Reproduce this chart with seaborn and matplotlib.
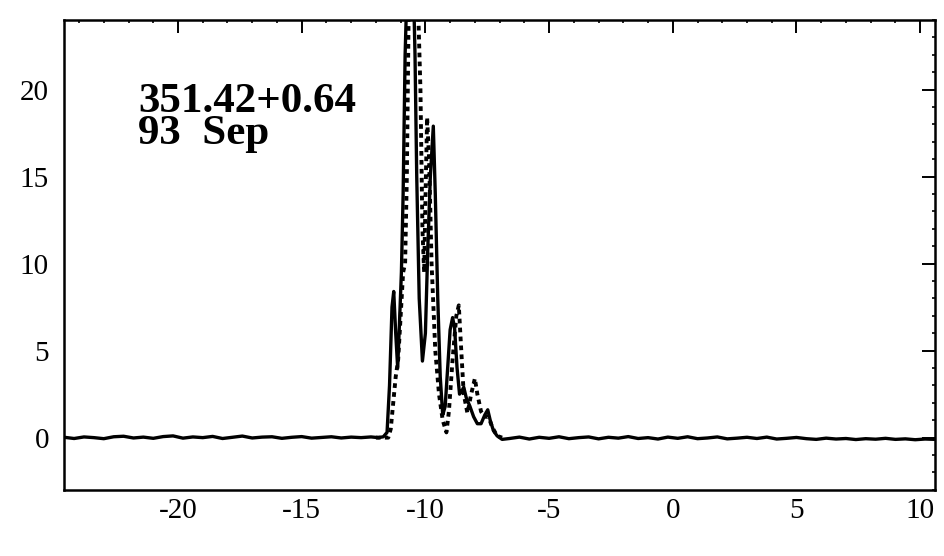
import numpy as np
import pandas as pd
import matplotlib
matplotlib.use("Agg")
import matplotlib.pyplot as plt
from matplotlib.ticker import MultipleLocator
import seaborn as sns

# ---- data ----
base_left_x = [-24.6, -24.2, -23.8, -23.4, -23.0, -22.6, -22.2, -21.8, -21.4, -21.0,
               -20.6, -20.2, -19.8, -19.4, -19.0, -18.6, -18.2, -17.8, -17.4, -17.0,
               -16.6, -16.2, -15.8, -15.4, -15.0, -14.6, -14.2, -13.8, -13.4, -13.0,
               -12.6, -12.2]
base_left_y = [0.02, -0.05, 0.04, 0.0, -0.06, 0.05, 0.08, -0.02, 0.03, -0.04,
               0.06, 0.1, -0.03, 0.04, 0.0, 0.07, -0.05, 0.02, 0.09, -0.02,
               0.03, 0.05, -0.04, 0.02, 0.06, -0.03, 0.01, 0.05, -0.02, 0.03,
               0.0, 0.04]

solid_x = [-11.9, -11.7, -11.55, -11.45, -11.35, -11.28, -11.2, -11.12, -11.05, -10.97,
           -10.9, -10.82, -10.7, -10.6, -10.5, -10.42, -10.35, -10.25, -10.12, -10.0,
           -9.9, -9.8, -9.68, -9.6, -9.5, -9.4, -9.3, -9.2, -9.1, -9.0,
           -8.9, -8.82, -8.72, -8.62, -8.52, -8.45, -8.35, -8.2, -8.05, -7.9,
           -7.75, -7.6, -7.48, -7.38, -7.25, -7.1, -6.9]
solid_y = [0.0, 0.05, 0.3, 3.0, 7.5, 8.4, 6.0, 4.0, 6.5, 9.5,
           14.0, 22.0, 28.0, 30.0, 27.0, 22.0, 15.0, 8.0, 4.4, 6.0,
           11.0, 15.0, 17.9, 14.0, 8.0, 3.5, 1.3, 1.8, 4.0, 6.2,
           6.9, 6.3, 4.0, 2.5, 2.7, 2.9, 2.3, 1.8, 1.2, 0.8,
           0.8, 1.3, 1.6, 1.0, 0.4, 0.1, -0.1]

base_right_x = [-6.6, -6.2, -5.8, -5.4, -5.0, -4.6, -4.2, -3.8, -3.4, -3.0,
                -2.6, -2.2, -1.8, -1.4, -1.0, -0.6, -0.2, 0.2, 0.6, 1.0,
                1.4, 1.8, 2.2, 2.6, 3.0, 3.4, 3.8, 4.2, 4.6, 5.0,
                5.4, 5.8, 6.2, 6.6, 7.0, 7.4, 7.8, 8.2, 8.6, 9.0,
                9.4, 9.8, 10.2, 10.6]
base_right_y = [-0.05, 0.03, -0.08, 0.02, -0.04, 0.05, -0.06, 0.0, 0.04, -0.07,
                0.02, -0.03, 0.06, -0.05, 0.0, -0.08, 0.03, -0.04, 0.05, -0.06,
                -0.02, 0.04, -0.07, -0.03, 0.02, -0.05, 0.03, -0.08, -0.04, 0.01,
                -0.06, -0.1, -0.03, -0.08, -0.05, -0.11, -0.06, -0.09, -0.04, -0.1,
                -0.07, -0.12, -0.08, -0.1]

dotted_x = [-12.0, -11.5, -11.4, -11.3, -11.2, -11.1, -11.0, -10.9, -10.82, -10.75,
            -10.68, -10.55, -10.4, -10.28, -10.2, -10.12, -10.05, -9.98, -9.93, -9.85,
            -9.75, -9.6, -9.45, -9.3, -9.15, -9.05, -8.9, -8.75, -8.65, -8.55,
            -8.45, -8.3, -8.15, -8.0, -7.9, -7.75, -7.6, -7.45, -7.3, -7.1, -6.9]
dotted_y = [0.0, 0.0, 0.5, 2.0, 3.5, 4.5, 7.0, 9.5, 10.0, 15.0,
            24.0, 30.0, 29.0, 24.0, 20.0, 12.0, 9.5, 15.0, 18.4, 16.0,
            10.0, 5.0, 2.5, 1.0, 0.3, 1.5, 4.5, 7.0, 7.6, 5.0,
            2.5, 1.4, 2.5, 3.4, 2.5, 1.5, 1.2, 1.2, 0.6, 0.1, 0.0]

label_lines = ["351.42+0.64", "93  Sep"]
x_ticks = [-20, -15, -10, -5, 0, 5, 10]
y_ticks = [0, 5, 10, 15, 20]

# ---- plotting ----
sns.set_theme(style="white")
plt.rcParams['font.family'] = ['Liberation Serif', 'DejaVu Serif']

fig = plt.figure(figsize=(9.44, 5.56), dpi=100)
ax = fig.add_axes([0.068, 0.119, 0.9225, 0.845])

solid_df = pd.DataFrame({
    "v": base_left_x + solid_x + base_right_x,
    "t": base_left_y + solid_y + base_right_y,
})
dotted_df = pd.DataFrame({"v": dotted_x, "t": dotted_y})

sns.lineplot(data=solid_df, x="v", y="t", ax=ax, color="black", lw=2.4,
             estimator=None, sort=False)
sns.lineplot(data=dotted_df, x="v", y="t", ax=ax, color="black", lw=2.8,
             estimator=None, sort=False, linestyle=(0, (1.2, 1.1)))

ax.set_xlim(-24.6, 10.6)
ax.set_ylim(-3, 24)
ax.set_xticks(x_ticks)
ax.set_yticks(y_ticks)
ax.set_xticklabels([str(t) for t in x_ticks])
ax.set_yticklabels([str(t) for t in y_ticks])
ax.xaxis.set_minor_locator(MultipleLocator(1))
ax.yaxis.set_minor_locator(MultipleLocator(1))
ax.tick_params(which="major", direction="in", length=9.5, width=1.4,
               top=True, right=True, labelsize=21, colors="black")
ax.tick_params(axis="x", which="major", pad=6)
ax.tick_params(axis="y", which="major", pad=11)
ax.tick_params(which="minor", direction="in", length=2.5, width=1.2,
               top=True, right=True, colors="black")
for s in ax.spines.values():
    s.set_color("black")
    s.set_linewidth(1.8)
ax.set_xlabel("")
ax.set_ylabel("")
ax.grid(False)

ax.text(-21.6, 16.85, "\n".join(label_lines), fontsize=31, fontweight="bold",
        color="black", ha="left", va="baseline", linespacing=0.82)

fig.savefig("out.png", dpi=100, facecolor="white")
